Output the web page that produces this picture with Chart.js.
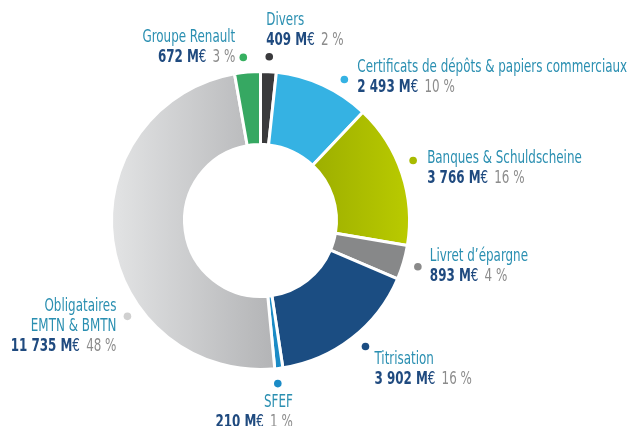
<!DOCTYPE html>
<html lang="fr">
<head>
<meta charset="utf-8">
<title>Sources de financement</title>
<script src="https://cdn.jsdelivr.net/npm/chart.js@4.4.1/dist/chart.umd.min.js"></script>
<style>
html, body { margin: 0; padding: 0; background: #fff; }
#wrap { width: 627px; height: 426px; }
</style>
</head>
<body>
<div id="wrap"><canvas id="donutChart" width="627" height="426"></canvas></div>
<script>
// Données (sens horaire en partant de midi)
const categories = ['Divers', 'Certificats de dépôts & papiers commerciaux', 'Banques & Schuldscheine',
    'Livret d\u2019épargne', 'Titrisation', 'SFEF', 'Obligataires EMTN & BMTN', 'Groupe Renault'];
const nomsLignes = [['Divers'], ['Certificats de dépôts & papiers commerciaux'], ['Banques & Schuldscheine'],
    ['Livret d\u2019épargne'], ['Titrisation'], ['SFEF'], ['Obligataires', 'EMTN & BMTN'], ['Groupe Renault']];
const montants = [409, 2493, 3766, 893, 3902, 210, 11735, 672];
const parts = [2, 10, 16, 4, 16, 1, 48, 3];

const couleurs = ['#3a3a3c', '#35b2e3', '#aabd00', '#878889', '#1b4d82', '#1b8bc6', '#c9cacb', '#36a862'];
const pointsCouleurs = ['#3a3a3c', '#35b2e3', '#a8bb00', '#8a8a8a', '#1b4d82', '#1b8bc6', '#d0d0d0', '#36b060'];

// Placement des étiquettes autour de l'anneau
const etiquettes = [
    { angle: 0,   align: 'left',  dx: -3,  dy: -36 },
    { angle: 6,   align: 'left',  dx: 13,  dy: -12 },
    { angle: -3,  align: 'left',  dx: 14,  dy: -2 },
    { angle: 0,   align: 'left',  dx: 12,  dy: -10 },
    { angle: -2,  align: 'left',  dx: 9,   dy: 13 },
    { angle: 1,   align: 'right', dx: 15,  dy: 19 },
    { angle: -28, align: 'right', dx: -11, dy: -10 },
    { angle: -1,  align: 'right', dx: -8,  dy: -20 }
];

const POLICE = '"Liberation Sans Narrow", "DejaVu Sans Condensed", sans-serif';
const TAILLE = 17;
const ECHELLE_X = 0.78;
const INTERLIGNE = 20;

function formatMontant(n) {
    return String(n).replace(/\B(?=(\d{3})+(?!\d))/g, ' ');
}

// Écrit une ligne composée de plusieurs morceaux (police condensée)
function ecrireLigne(ctx, morceaux, x, y, align) {
    let total = 0;
    morceaux.forEach(m => {
        ctx.font = m.font;
        m.w = ctx.measureText(m.text).width * ECHELLE_X;
        total += m.w;
    });
    let cx = align === 'right' ? x - total : x;
    morceaux.forEach(m => {
        ctx.save();
        ctx.font = m.font;
        ctx.fillStyle = m.color;
        ctx.textBaseline = 'middle';
        ctx.textAlign = 'left';
        ctx.translate(cx, y);
        ctx.scale(ECHELLE_X, 1);
        ctx.fillText(m.text, 0, 0);
        ctx.restore();
        cx += m.w;
    });
}

const etiquettesPlugin = {
    id: 'etiquettes',
    afterDraw(chart) {
        const ctx = chart.ctx;
        const arcs = chart.getDatasetMeta(0).data;
        arcs.forEach((arc, i) => {
            const cfg = etiquettes[i];
            const mid = (arc.startAngle + arc.endAngle) / 2 + cfg.angle * Math.PI / 180;
            const r = arc.outerRadius + 15;
            const px = arc.x + Math.cos(mid) * r;
            const py = arc.y + Math.sin(mid) * r;

            ctx.save();
            ctx.beginPath();
            ctx.arc(px, py, 3.8, 0, Math.PI * 2);
            ctx.fillStyle = pointsCouleurs[i];
            ctx.fill();
            ctx.restore();

            const tx = px + cfg.dx;
            let ty = py + cfg.dy;
            nomsLignes[i].forEach(ligne => {
                ecrireLigne(ctx, [{ text: ligne, font: `${TAILLE}px ${POLICE}`, color: '#2a8fb1' }], tx, ty, cfg.align);
                ty += INTERLIGNE;
            });
            ecrireLigne(ctx, [
                { text: formatMontant(montants[i]) + ' M', font: `bold ${TAILLE}px ${POLICE}`, color: '#1f4a7f' },
                { text: '\u20ac', font: `${TAILLE}px ${POLICE}`, color: '#1f4a7f' },
                { text: ' \u2009' + parts[i] + ' %', font: `${TAILLE}px ${POLICE}`, color: '#8c8c8c' }
            ], tx, ty, cfg.align);
        });
    }
};

function couleurSegment(context) {
    const i = context.dataIndex;
    const area = context.chart.chartArea;
    if (!area) return couleurs[i];
    const c = context.chart.ctx;
    if (i === 6) {
        const g = c.createLinearGradient(area.left, 0, (area.left + area.right) / 2 + 10, 0);
        g.addColorStop(0, '#e3e4e5');
        g.addColorStop(1, '#b4b5b7');
        return g;
    }
    if (i === 2) {
        const cx = (area.left + area.right) / 2;
        const g = c.createLinearGradient(cx + 50, 0, area.right, 0);
        g.addColorStop(0, '#9cae00');
        g.addColorStop(1, '#bacb00');
        return g;
    }
    return couleurs[i];
}

function createChart() {
    const ctx = document.getElementById('donutChart').getContext('2d');
    new Chart(ctx, {
        type: 'doughnut',
        data: {
            labels: categories,
            datasets: [{
                data: montants,
                backgroundColor: couleurSegment,
                borderColor: '#ffffff',
                borderWidth: 3
            }]
        },
        options: {
            responsive: false,
            animation: false,
            cutout: '51%',
            layout: { padding: { left: 110, right: 216, top: 70, bottom: 55 } },
            events: [],
            plugins: {
                legend: { display: false },
                tooltip: { enabled: false }
            }
        },
        plugins: [etiquettesPlugin]
    });
}

document.addEventListener('DOMContentLoaded', createChart);
</script>
</body>
</html>
